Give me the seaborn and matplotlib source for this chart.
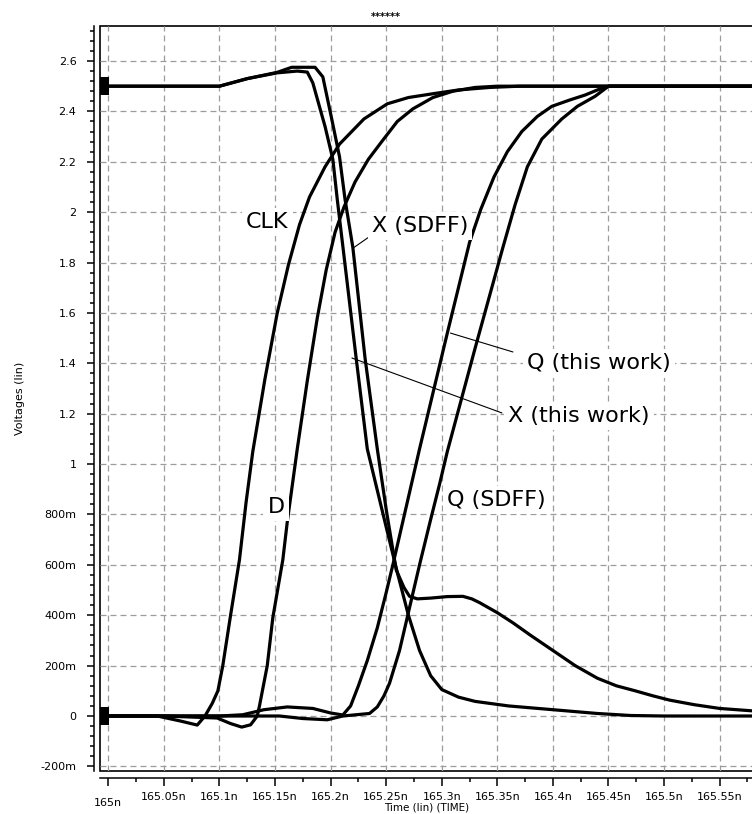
import pandas as pd
import matplotlib
matplotlib.use("Agg")
import matplotlib.pyplot as plt
from matplotlib.path import Path
from matplotlib.ticker import MultipleLocator
import seaborn as sns

# waveforms, time in ns, voltage in V
clk_t = [164.9925, 165.02, 165.044, 165.065, 165.080, 165.087, 165.0935, 165.0986, 165.103,
         165.110, 165.118, 165.124, 165.130, 165.141, 165.152, 165.162, 165.172, 165.181,
         165.195, 165.208, 165.230, 165.251, 165.270, 165.292, 165.315, 165.343, 165.37,
         165.5809]
clk_v = [0, 0, 0, -0.02, -0.036, 0.0, 0.05, 0.1, 0.2, 0.4, 0.62, 0.85, 1.05, 1.34, 1.60,
         1.79, 1.95, 2.06, 2.18, 2.27, 2.37, 2.43, 2.455, 2.47, 2.485, 2.495, 2.5, 2.5]

d_t = [164.9925, 165.05, 165.098, 165.110, 165.120, 165.128, 165.134, 165.136, 165.143,
       165.148, 165.157, 165.161, 165.170, 165.179, 165.188, 165.196, 165.204, 165.212,
       165.222, 165.234, 165.246, 165.260, 165.274, 165.292, 165.310, 165.330, 165.35,
       165.5809]
d_v = [0, 0, -0.008, -0.03, -0.044, -0.035, 0.0, 0.04, 0.2, 0.39, 0.62, 0.77, 1.06, 1.33,
       1.58, 1.77, 1.92, 2.02, 2.12, 2.21, 2.28, 2.36, 2.41, 2.455, 2.48, 2.495, 2.5, 2.5]

x_this_t = [164.9925, 165.05, 165.10, 165.125, 165.152, 165.170, 165.179, 165.184, 165.195,
            165.202, 165.206, 165.223, 165.233, 165.250, 165.260, 165.270, 165.280, 165.290,
            165.30, 165.315, 165.33, 165.36, 165.40, 165.44, 165.47, 165.50, 165.5809]
x_this_v = [2.5, 2.5, 2.5, 2.53, 2.553, 2.56, 2.556, 2.513, 2.34, 2.21, 2.05, 1.42, 1.06,
            0.75, 0.57, 0.40, 0.26, 0.16, 0.105, 0.075, 0.058, 0.04, 0.025, 0.01, 0.002, 0.0,
            0.0]

x_sdff_t = [164.9925, 165.05, 165.10, 165.125, 165.152, 165.165, 165.186, 165.193, 165.201,
            165.208, 165.213, 165.220, 165.231, 165.242, 165.250, 165.259, 165.266, 165.271,
            165.278, 165.290, 165.305, 165.319, 165.327, 165.334, 165.35, 165.364, 165.38,
            165.40, 165.42, 165.44, 165.457, 165.474, 165.49, 165.505, 165.527, 165.55,
            165.5809]
x_sdff_v = [2.5, 2.5, 2.5, 2.53, 2.555, 2.575, 2.575, 2.537, 2.37, 2.22, 2.05, 1.86, 1.42,
            1.06, 0.82, 0.58, 0.51, 0.475, 0.465, 0.468, 0.474, 0.475, 0.465, 0.45, 0.41,
            0.37, 0.32, 0.26, 0.20, 0.15, 0.12, 0.10, 0.08, 0.063, 0.045, 0.03, 0.02]

q_this_t = [164.9925, 165.10, 165.121, 165.140, 165.161, 165.184, 165.200, 165.211, 165.218,
            165.225, 165.233, 165.242, 165.250, 165.256, 165.268, 165.280, 165.305, 165.325,
            165.335, 165.347, 165.359, 165.372, 165.386, 165.399, 165.415, 165.429, 165.44,
            165.45, 165.5809]
q_this_v = [0, 0, 0.005, 0.025, 0.036, 0.03, 0.012, 0.004, 0.04, 0.12, 0.22, 0.35, 0.49,
            0.60, 0.83, 1.06, 1.52, 1.88, 2.01, 2.14, 2.24, 2.32, 2.38, 2.42, 2.445, 2.465,
            2.485, 2.5, 2.5]

q_sdff_t = [164.9925, 165.10, 165.154, 165.175, 165.197, 165.211, 165.235, 165.242, 165.248,
            165.253, 165.262, 165.271, 165.280, 165.290, 165.298, 165.305, 165.330, 165.345,
            165.355, 165.366, 165.377, 165.390, 165.408, 165.422, 165.438, 165.45, 165.5809]
q_sdff_v = [0, 0, 0, -0.01, -0.015, 0.0, 0.01, 0.036, 0.08, 0.13, 0.26, 0.43, 0.60, 0.78,
            0.92, 1.05, 1.46, 1.70, 1.86, 2.03, 2.18, 2.29, 2.37, 2.42, 2.46, 2.5, 2.5]

x_ticks = [165.0, 165.05, 165.1, 165.15, 165.2, 165.25, 165.3, 165.35, 165.4, 165.45, 165.5, 165.55]
x_tick_labels = ["165n", "165.05n", "165.1n", "165.15n", "165.2n", "165.25n", "165.3n",
                 "165.35n", "165.4n", "165.45n", "165.5n", "165.55n"]
y_ticks = [2.6, 2.4, 2.2, 2.0, 1.8, 1.6, 1.4, 1.2, 1.0, 0.8, 0.6, 0.4, 0.2, 0.0, -0.2]
y_tick_labels = ["2.6", "2.4", "2.2", "2", "1.8", "1.6", "1.4", "1.2", "1", "800m", "600m",
                 "400m", "200m", "0", "-200m"]

frames = []
for name, t, v in [("CLK", clk_t, clk_v), ("D", d_t, d_v),
                   ("X (this work)", x_this_t, x_this_v), ("X (SDFF)", x_sdff_t, x_sdff_v),
                   ("Q (this work)", q_this_t, q_this_v), ("Q (SDFF)", q_sdff_t, q_sdff_v)]:
    frames.append(pd.DataFrame({"signal": name, "time": t, "volt": v}))
df = pd.concat(frames, ignore_index=True)

sns.set_theme(style="white")
plt.rcParams["font.family"] = ["DejaVu Sans"]
plt.rcParams["lines.scale_dashes"] = False
plt.rcParams["text.color"] = "black"

fig = plt.figure(figsize=(7.52, 8.14), dpi=100)
ax = fig.add_axes([100 / 752, 43 / 814, 654 / 752, 745 / 814])

# tall block marker at the start of every trace, like the simulator draws
start_mark = Path([(0, -1), (1, -1), (1, 1), (0, 1), (0, -1)],
                  [Path.MOVETO, Path.LINETO, Path.LINETO, Path.LINETO, Path.CLOSEPOLY])

sns.lineplot(data=df, x="time", y="volt", hue="signal",
             palette={s: "black" for s in df["signal"].unique()},
             estimator=None, sort=False, legend=False, linewidth=2.3,
             marker=start_mark, markevery=[0], markersize=12.5,
             markeredgecolor="black", markeredgewidth=0, ax=ax, zorder=3)

ax.set_xlim(164.99253, 165.5809)
ax.set_ylim(-0.2183, 2.7389)

ax.set_xticks(x_ticks)
ax.set_xticklabels(x_tick_labels)
ax.set_yticks(y_ticks)
ax.set_yticklabels(y_tick_labels)
ax.xaxis.set_minor_locator(MultipleLocator(0.025))
ax.yaxis.set_minor_locator(MultipleLocator(0.04))
ax.tick_params(axis="both", which="both", direction="out", color="black", width=1.1,
               labelsize=8, labelcolor="black")
ax.tick_params(axis="y", which="major", length=5, pad=8, left=True)
ax.tick_params(axis="y", which="minor", length=3, left=True)
ax.tick_params(axis="x", which="major", length=6, pad=4, bottom=True)
ax.tick_params(axis="x", which="minor", length=3, bottom=True)

ax.grid(True, which="major", color="#9c9c9c", linestyle=(0, (4.3, 2.9)), linewidth=0.9)
ax.set_axisbelow(True)

for side in ["top", "right"]:
    ax.spines[side].set_visible(False)
ax.spines["left"].set_position(("outward", 4))
ax.spines["bottom"].set_position(("outward", 5))
for side in ["left", "bottom"]:
    ax.spines[side].set_color("black")
    ax.spines[side].set_linewidth(1.1)
ax.patch.set_edgecolor("black")
ax.patch.set_linewidth(1.2)

ax.set_xlabel("")
ax.set_ylabel("")
ax.get_xticklabels()[0].set_y(-0.008)

# curve labels with white boxes that cut the traces
box = dict(facecolor="white", edgecolor="none", pad=3)
lab = dict(fontsize=16, color="black", va="center", bbox=box, zorder=5)
ax.text(165.1428, 1.961, "CLK", ha="center", **lab)
ax.text(165.2371, 1.945, "X (SDFF)", ha="left", **lab)
ax.text(165.3766, 1.40, "Q (this work)", ha="left", **lab)
ax.text(165.3597, 1.19, "X (this work)", ha="left", **lab)
ax.text(165.151, 0.83, "D", ha="center", **lab)
ax.text(165.3047, 0.857, "Q (SDFF)", ha="left", **lab)

leader = dict(arrowstyle="-", color="black", lw=0.8, shrinkA=0, shrinkB=0)
ax.annotate("", xy=(165.2204, 1.858), xytext=(165.2370, 1.909), arrowprops=leader, zorder=4)
ax.annotate("", xy=(165.3078, 1.520), xytext=(165.3640, 1.445), arrowprops=leader, zorder=4)
ax.annotate("", xy=(165.2192, 1.421), xytext=(165.3541, 1.203), arrowprops=leader, zorder=4)

fig.text(386 / 752, 1 - 17 / 814, "******", fontsize=7, fontweight="bold",
         ha="center", va="center", color="black")
fig.text(427 / 752, 1 - 808 / 814, "Time (lin) (TIME)", fontsize=7.5, ha="center",
         va="center", color="black")
fig.text(20 / 752, 1 - 398 / 814, "Voltages (lin)", fontsize=8, rotation=90,
         ha="center", va="center", color="black")

fig.savefig("out.png", dpi=100)
